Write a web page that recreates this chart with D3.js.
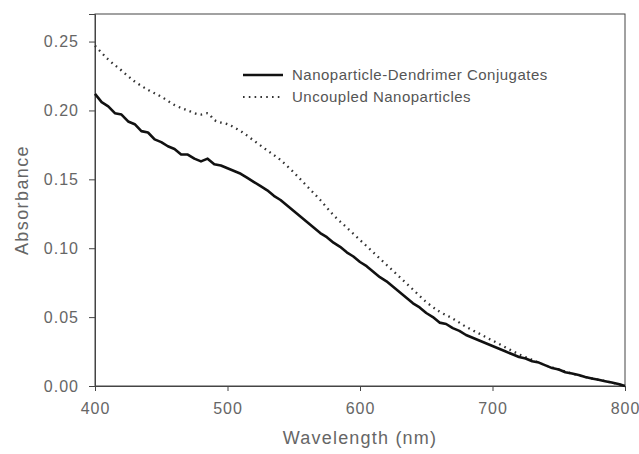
<!DOCTYPE html>
<html><head><meta charset="utf-8">
<script src="https://cdn.jsdelivr.net/npm/d3@7"></script>
<style>body{margin:0;background:#fff}svg{display:block}</style>
</head><body>
<svg id="c" width="639" height="454"></svg>
<script>
// Data
const solidStart = 400, solidStep = 5;
const conjugates = [
 .212,.206,.203,.198,.197,.192,.190,.185,.184,.179,
 .177,.174,.172,.168,.168,.165,.163,.165,.161,.160,
 .158,.156,.154,.151,.148,.145,.142,.138,.135,.131,
 .127,.123,.119,.115,.111,.108,.104,.101,.097,.094,
 .090,.087,.083,.079,.076,.072,.068,.064,.060,.057,
 .053,.050,.046,.045,.042,.040,.037,.035,.033,.031,
 .029,.027,.025,.023,.021,.020,.018,.017,.015,.013,
 .012,.010,.009,.008,.0065,.0055,.0045,.0035,.0025,.0015,.000
];
const dotWl = [400,410,420,430,440,450,460,470,480,485,490,500,510,520,530,540,550,560,570,580,590,600,610,620,630,640,650,660,670,680,690,700,710,720,730,740,750,760,770,780,790,800];
const uncoupled = [.247,.237,.229,.221,.215,.210,.204,.200,.197,.198,.193,.190,.185,.178,.171,.164,.155,.145,.135,.124,.115,.106,.097,.088,.079,.070,.061,.054,.049,.043,.038,.033,.028,.023,.019,.015,.012,.009,.0065,.0045,.0025,.000];
const xTicks = [400,500,600,700,800];
const yTicks = [0,0.05,0.10,0.15,0.20,0.25];
const seriesNames = ["Nanoparticle-Dendrimer Conjugates","Uncoupled Nanoparticles"];

const svg = d3.select("#c");
const L=95, R=625, T=14, B=386;
const x = d3.scaleLinear().domain([400,800]).range([L,R]);
const y = d3.scaleLinear().domain([0,0.27]).range([B,T]);
const font = "'Liberation Sans', Arial, sans-serif";

// frame
svg.append("rect").attr("x",L).attr("y",T).attr("width",R-L).attr("height",B-T)
  .attr("fill","none").attr("stroke","#444").attr("stroke-width",1);

// axes
const ya = svg.append("g").attr("transform",`translate(${L},0)`)
  .call(d3.axisLeft(y).tickValues(yTicks).tickFormat(d3.format(".2f")).tickSize(6).tickPadding(10));
const xa = svg.append("g").attr("transform",`translate(0,${B})`)
  .call(d3.axisBottom(x).tickValues(xTicks).tickFormat(d3.format("d")).tickSize(5).tickPadding(12));
[ya,xa].forEach(g=>{
  g.select(".domain").attr("stroke","#444");
  g.selectAll(".tick line").attr("stroke","#444");
  g.selectAll(".tick text").attr("fill","#666").style("font-family",font)
    .style("font-size","16px").style("letter-spacing","1px");
});

// lines
const solidData = conjugates.map((v,i)=>[solidStart+i*solidStep,v]);
const dotData = dotWl.map((w,i)=>[w,uncoupled[i]]);
svg.append("path").datum(dotData).attr("d",d3.line().x(d=>x(d[0])).y(d=>y(d[1])).curve(d3.curveMonotoneX))
  .attr("fill","none").attr("stroke","#333").attr("stroke-width",2.3)
  .attr("stroke-dasharray","1.6,4.2");
svg.append("path").datum(solidData).attr("d",d3.line().x(d=>x(d[0])).y(d=>y(d[1])))
  .attr("fill","none").attr("stroke","#111").attr("stroke-width",2.6).attr("stroke-linejoin","round");

// legend
const lg = svg.append("g");
[0,1].forEach(i=>{
  const yy = 75 + i*22;
  lg.append("line").attr("x1",243).attr("x2",283).attr("y1",yy).attr("y2",yy)
    .attr("stroke",i?"#333":"#111").attr("stroke-width",i?2.2:2.6)
    .attr("stroke-dasharray",i?"1.6,4.2":null);
  lg.append("text").attr("x",292).attr("y",yy+5).text(seriesNames[i])
    .attr("fill","#555").style("font-family",font).style("font-size","15px").style("letter-spacing","0.5px");
});

// titles
svg.append("text").attr("x",(L+R)/2).attr("y",444).attr("text-anchor","middle")
  .text("Wavelength (nm)").attr("fill","#666").style("font-family",font)
  .style("font-size","18px").style("letter-spacing","1.2px");
svg.append("text").attr("transform",`translate(28,${(T+B)/2}) rotate(-90)`).attr("text-anchor","middle")
  .text("Absorbance").attr("fill","#666").style("font-family",font)
  .style("font-size","18px").style("letter-spacing","1.4px");
</script>
</body></html>
